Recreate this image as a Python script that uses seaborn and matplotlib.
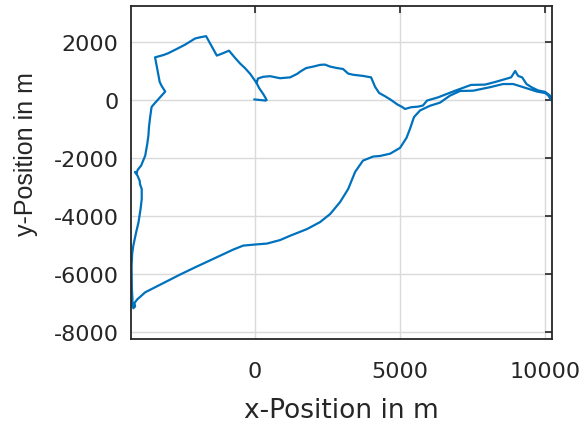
import numpy as np
import pandas as pd
import matplotlib
matplotlib.use("Agg")
import matplotlib.pyplot as plt
import seaborn as sns

# trajectory (m), in driving order
# start hook at the origin
hook_x = [-30, 170, 360, 400, 290, 140, 50]
hook_y = [20, 0, -20, 0, 190, 410, 590]

# upper (bumpy) line going east
east_x = [100, 280, 520, 860, 1210, 1450, 1590, 1760, 2000, 2240,
          2410, 2590, 2830, 3030, 3210, 3380, 3720, 4000, 4140, 4280,
          4480, 4690, 4900, 5070, 5170, 5380, 5620, 5790, 5930, 6310,
          6620, 6900, 7450, 7930, 8280, 8620, 8830, 8970, 9070, 9210,
          9360, 9550, 9760, 10000, 10170, 10230]
east_y = [740, 800, 820, 750, 780, 900, 1000, 1100, 1150, 1210,
          1220, 1150, 1100, 1070, 910, 870, 830, 780, 450, 240,
          130, 0, -150, -240, -310, -250, -230, -190, -20, 90,
          210, 320, 520, 530, 620, 720, 780, 1000, 830, 780,
          550, 430, 330, 280, 150, -20]

# back west, down and round the big loop to the top-left part
loop_x = [10100, 10000, 9720, 9380, 8900, 8550, 8100, 7520, 7070, 6720,
          6380, 6030, 5690, 5480, 5340, 5220, 5000, 4660, 4310, 4070,
          3720, 3450, 3210, 2930, 2590, 2240, 1790, 1210, 860, 410,
          30, -410, -760, -1450, -2070, -2590, -3340, -3790, -4070, -4160,
          -4140, -4200, -4230, -4230, -4250, -4260, -4240, -4200, -4100, -4020,
          -3950, -3910, -3910, -3970, -3980, -4050, -4140, -4090, -4050, -3930,
          -3790, -3720, -3680, -3660, -3620, -3570, -3450, -3280, -3100, -3220,
          -3290, -3450, -3160, -3000, -2660, -2410, -2180, -2070, -1900, -1690,
          -1320, -1140, -900, -790, -690, -520, -340, -170, -70, 50]
loop_y = [170, 240, 290, 400, 550, 550, 440, 320, 310, 150,
          -90, -200, -360, -590, -1000, -1310, -1650, -1850, -1930, -1950,
          -2090, -2480, -3070, -3520, -3930, -4210, -4450, -4680, -4830, -4950,
          -4980, -5020, -5160, -5480, -5770, -6020, -6400, -6630, -6880, -7000,
          -7120, -7180, -7070, -6860, -6520, -5720, -5310, -5020, -4550, -4210,
          -3760, -3410, -3070, -2900, -2790, -2620, -2480, -2530, -2410, -2260,
          -1920, -1520, -1230, -930, -590, -240, -100, 90, 290, 480,
          620, 1470, 1550, 1610, 1780, 1910, 2050, 2120, 2160, 2200,
          1530, 1600, 1700, 1570, 1450, 1260, 1090, 900, 760, 590]

pos_x = hook_x + east_x + loop_x
pos_y = hook_y + east_y + loop_y
df = pd.DataFrame({"x": pos_x, "y": pos_y, "step": np.arange(len(pos_x))})

sns.set_style("white")
plt.rcParams["font.family"] = ["DejaVu Sans"]
plt.rcParams["axes.unicode_minus"] = False

fig = plt.figure(figsize=(5.82, 4.27), dpi=100)
ax = fig.add_axes([131 / 582, 1 - 340 / 427, 421 / 582, 333 / 427])

sns.lineplot(data=df, x="x", y="y", sort=False, estimator=None,
             color="#0072BD", linewidth=1.6, ax=ax)

ax.set_xlim(-4280, 10240)
ax.set_ylim(-8240, 3240)
ax.set_xticks([0, 5000, 10000])
ax.set_yticks([-8000, -6000, -4000, -2000, 0, 2000])
ax.grid(True, color="#dadada", linewidth=1.0)
ax.set_axisbelow(True)

for s in ax.spines.values():
    s.set_color("#262626")
    s.set_linewidth(1.3)
    s.set_visible(True)

ax.tick_params(axis="both", direction="in", length=5, width=1.2,
               color="#262626", labelcolor="#262626", labelsize=16,
               top=True, right=True)
ax.tick_params(axis="x", pad=16)
ax.tick_params(axis="y", pad=9)

ax.set_xlabel("x-Position in m", fontsize=19, color="#262626")
ax.set_ylabel("y-Position in m", fontsize=18, color="#262626",
              family=["Liberation Sans", "DejaVu Sans"])
ax.xaxis.set_label_coords(0.5, -0.174)
ax.yaxis.set_label_coords(-0.221, 0.559)

fig.savefig("out.png", dpi=100)
